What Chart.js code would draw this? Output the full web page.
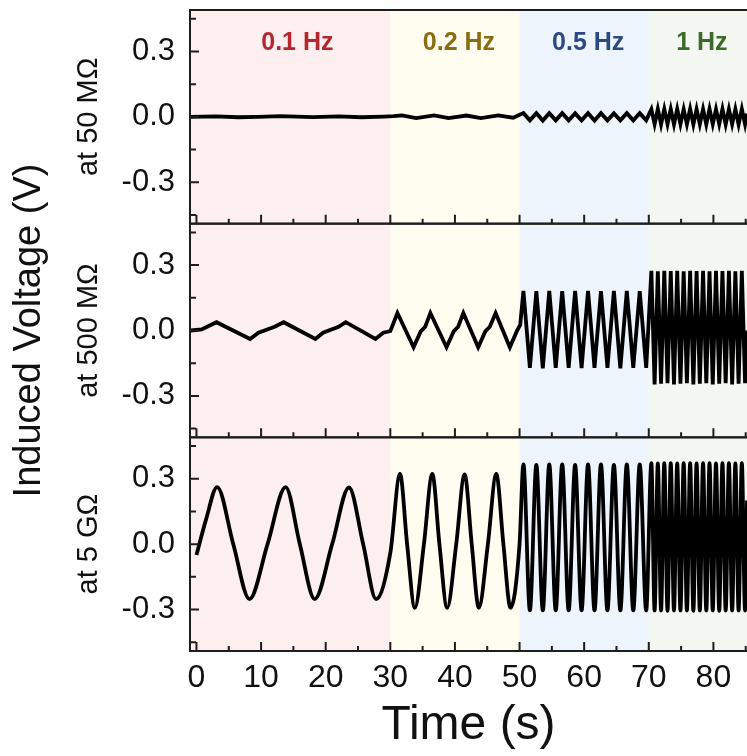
<!DOCTYPE html>
<html>
<head>
<meta charset="utf-8">
<script src="https://cdn.jsdelivr.net/npm/chart.js@4.4.1/dist/chart.umd.min.js"></script>
<style>
  html, body { margin: 0; padding: 0; background: #fff; }
</style>
</head>
<body>
<canvas id="myChart" width="747" height="756"></canvas>
<script>
const FONT = "'Liberation Sans', Arial, Helvetica, sans-serif";

// frequency sections of the drive (s)
const bandEdges = [-1, 30, 50, 70, 85.2];
const bandNames = ['0.1 Hz', '0.2 Hz', '0.5 Hz', '1 Hz'];
const bandColors = ['#fdeef0', '#fefdf0', '#eef4fb', '#f3f6f1'];
const bandTextColors = ['#b3282e', '#8a6c12', '#2b4a82', '#3d6a2b'];

const xTickMarks = [0, 5, 10, 15, 20, 25, 30, 35, 40, 45, 50, 55, 60, 65, 70, 75, 80, 85];
const yTickMarks = [-0.45, -0.3, -0.15, 0, 0.15, 0.3, 0.45];

// load 50 MOhm
const time50M = [-0.9, 3.0, 6.5, 9.5, 13.0, 18.0, 22.0, 25.5, 29.0, 30.5,
  31.8, 34.0, 36.8, 39.0, 41.8, 44.0, 46.7, 49.0,
  50.6, 51.6, 52.6, 53.6, 54.6, 55.6, 56.6, 57.6, 58.6, 59.6, 60.6, 61.6, 62.6, 63.6, 64.6, 65.6, 66.6, 67.6, 68.6, 69.6,
  70.4, 70.9, 71.4, 71.9, 72.4, 72.9, 73.4, 73.9, 74.4, 74.9, 75.4, 75.9, 76.4, 76.9, 77.4, 77.9, 78.4, 78.9, 79.4, 79.9,
  80.4, 80.9, 81.4, 81.9, 82.4, 82.9, 83.4, 83.9, 84.4, 84.9, 85.2];
const volt50M = [0.000, 0.002, -0.002, 0.000, 0.003, -0.001, 0.002, -0.002, 0.001, 0.003,
  0.007, -0.006, 0.007, -0.006, 0.006, -0.006, 0.007, -0.004,
  0.017, -0.016, 0.017, -0.017, 0.017, -0.016, 0.017, -0.016, 0.016, -0.016, 0.017, -0.017, 0.017, -0.016, 0.016, -0.016, 0.017, -0.016, 0.017, -0.016,
  0.035, -0.034, 0.036, -0.035, 0.035, -0.034, 0.035, -0.035, 0.036, -0.034, 0.035, -0.034, 0.036, -0.035, 0.035, -0.034, 0.035, -0.035, 0.036, -0.034,
  0.035, -0.034, 0.036, -0.035, 0.035, -0.034, 0.035, -0.035, 0.036, -0.034, 0.015];

// load 500 MOhm
const time500M = [-0.9, 0.8, 3.1, 8.3, 9.6, 12.1, 13.5, 18.4, 19.6, 22.0, 23.1, 27.7, 28.9, 30.0,
  31.1, 33.6, 34.7, 35.4, 36.2, 38.7, 39.8, 40.5, 41.3, 43.6, 44.7, 45.4, 46.3, 48.5, 49.6, 50.1,
  50.6, 51.6, 52.6, 53.6, 54.6, 55.6, 56.6, 57.6, 58.6, 59.6, 60.6, 61.6, 62.6, 63.6, 64.6, 65.6, 66.6, 67.6, 68.6, 69.6,
  70.4, 70.9, 71.4, 71.9, 72.4, 72.9, 73.4, 73.9, 74.4, 74.9, 75.4, 75.9, 76.4, 76.9, 77.4, 77.9, 78.4, 78.9, 79.4, 79.9,
  80.4, 80.9, 81.4, 81.9, 82.4, 82.9, 83.4, 83.9, 84.4, 84.9, 85.2];
const volt500M = [0.000, 0.005, 0.038, -0.039, -0.010, 0.017, 0.038, -0.039, -0.010, 0.017, 0.038, -0.039, -0.010, -0.003,
  0.080, -0.077, -0.004, 0.017, 0.080, -0.077, -0.004, 0.017, 0.080, -0.077, -0.004, 0.017, 0.080, -0.077, -0.002, 0.026,
  0.182, -0.171, 0.180, -0.173, 0.182, -0.171, 0.181, -0.171, 0.182, -0.172, 0.182, -0.171, 0.180, -0.171, 0.182, -0.173, 0.182, -0.171, 0.181, -0.171,
  0.274, -0.247, 0.272, -0.244, 0.274, -0.242, 0.273, -0.247, 0.274, -0.244, 0.272, -0.242, 0.274, -0.247, 0.273, -0.244, 0.274, -0.242, 0.272, -0.247,
  0.274, -0.244, 0.273, -0.242, 0.274, -0.247, 0.272, -0.244, 0.274, -0.242, 0.000];

// load 5 GOhm
const time5G = [0.0, 1.5, 3.2, 5.7, 8.2, 11.0, 13.8, 16.0, 18.3, 21.0, 23.6, 25.8, 27.8, 30.0,
  31.5, 32.6, 33.8, 35.2, 36.5, 37.6, 38.8, 40.2, 41.5, 42.6, 43.7, 45.1, 46.4, 47.5, 48.6, 50.0,
  50.6, 51.6, 52.6, 53.6, 54.6, 55.6, 56.6, 57.6, 58.6, 59.6, 60.6, 61.6, 62.6, 63.6, 64.6, 65.6, 66.6, 67.6, 68.6, 69.6,
  70.4, 70.9, 71.4, 71.9, 72.4, 72.9, 73.4, 73.9, 74.4, 74.9, 75.4, 75.9, 76.4, 76.9, 77.4, 77.9, 78.4, 78.9, 79.4, 79.9,
  80.4, 80.9, 81.4, 81.9, 82.4, 82.9, 83.4, 83.9, 84.4, 84.9, 85.2];
const volt5G = [-0.050, 0.115, 0.262, 0.000, -0.252, 0.000, 0.262, 0.000, -0.252, 0.000, 0.260, 0.000, -0.252, -0.040,
  0.322, 0.000, -0.292, 0.000, 0.322, 0.000, -0.292, 0.000, 0.320, 0.000, -0.292, 0.000, 0.322, 0.000, -0.292, 0.000,
  0.366, -0.304, 0.364, -0.304, 0.366, -0.304, 0.366, -0.304, 0.364, -0.304, 0.366, -0.304, 0.366, -0.304, 0.364, -0.304, 0.366, -0.304, 0.366, -0.304,
  0.372, -0.304, 0.370, -0.304, 0.372, -0.306, 0.372, -0.304, 0.370, -0.304, 0.372, -0.304, 0.372, -0.306, 0.370, -0.304, 0.372, -0.304, 0.372, -0.304,
  0.370, -0.306, 0.372, -0.304, 0.372, -0.304, 0.370, -0.304, 0.372, -0.304, 0.200];

const panelIds = ['y50M', 'y500M', 'y5G'];

const toPoints = (ts, vs) => ts.map((t, i) => ({x: t, y: vs[i]}));

function panelAxis(title) {
  return {
    type: 'linear',
    position: 'left',
    stack: 'panels',
    stackWeight: 1,
    min: -0.49,
    max: 0.49,
    grid: {display: false, drawTicks: false},
    border: {display: false},
    ticks: {
      stepSize: 0.3,
      includeBounds: false,
      padding: 15,
      color: '#111',
      font: {family: FONT, size: 31},
      callback: v => v.toFixed(1)
    },
    title: {
      display: true,
      text: title,
      color: '#111',
      font: {family: FONT, size: 29},
      padding: {top: 72, bottom: 0}
    },
    afterFit: s => {
      s.width = 190;
      s.paddingTop = 0;
      s.paddingBottom = 0;
    }
  };
}

const panelPlugin = {
  id: 'panelFrames',
  beforeDatasetsDraw(chart) {
    const {ctx, chartArea, scales} = chart;
    const x = scales.x;
    ctx.save();
    for (let i = 0; i < bandColors.length; i++) {
      const x0 = x.getPixelForValue(bandEdges[i]);
      const x1 = x.getPixelForValue(bandEdges[i + 1]);
      ctx.fillStyle = bandColors[i];
      ctx.fillRect(x0, chartArea.top, x1 - x0, chartArea.bottom - chartArea.top);
    }
    // section names across the top panel
    const yTop = scales.y50M;
    ctx.font = 'bold 25px ' + FONT;
    ctx.textAlign = 'center';
    ctx.textBaseline = 'middle';
    for (let i = 0; i < bandNames.length; i++) {
      const mid = (Math.max(bandEdges[i], 0) + bandEdges[i + 1]) / 2;
      ctx.fillStyle = bandTextColors[i];
      ctx.fillText(bandNames[i], x.getPixelForValue(mid) + 4, yTop.getPixelForValue(0.34));
    }
    ctx.restore();
  },
  afterDatasetsDraw(chart) {
    const {ctx, chartArea, scales} = chart;
    const x = scales.x;
    ctx.save();
    ctx.strokeStyle = '#1e1e1e';
    ctx.lineWidth = 2;
    panelIds.forEach(id => {
      const s = scales[id];
      ctx.strokeRect(chartArea.left, s.top, chartArea.right - chartArea.left + 10, s.bottom - s.top);
      ctx.beginPath();
      xTickMarks.forEach(t => {
        const px = x.getPixelForValue(t);
        const len = t % 10 === 0 ? 9 : 5;
        ctx.moveTo(px, s.bottom);
        ctx.lineTo(px, s.bottom - len);
      });
      yTickMarks.forEach(v => {
        const py = s.getPixelForValue(v);
        const len = Math.abs(v * 10 % 3) < 0.01 ? 9 : 6;
        ctx.moveTo(chartArea.left, py);
        ctx.lineTo(chartArea.left + len, py);
      });
      ctx.stroke();
    });
    // shared y title
    ctx.translate(30, (chartArea.top + chartArea.bottom) / 2);
    ctx.rotate(-Math.PI / 2);
    ctx.fillStyle = '#111';
    ctx.font = '38px ' + FONT;
    ctx.textAlign = 'center';
    ctx.textBaseline = 'middle';
    ctx.fillText('Induced Voltage (V)', 0, 0);
    ctx.restore();
  }
};

const ctx = document.getElementById('myChart');

new Chart(ctx, {
  type: 'line',
  data: {
    datasets: [
      {label: '50 MΩ', data: toPoints(time50M, volt50M), yAxisID: 'y50M'},
      {label: '500 MΩ', data: toPoints(time500M, volt500M), yAxisID: 'y500M'},
      {label: '5 GΩ', data: toPoints(time5G, volt5G), yAxisID: 'y5G', cubicInterpolationMode: 'monotone'}
    ]
  },
  options: {
    responsive: false,
    animation: false,
    devicePixelRatio: 1,
    layout: {padding: {top: 10, left: 0, right: 0, bottom: 0}},
    plugins: {legend: {display: false}, tooltip: {enabled: false}},
    elements: {
      point: {radius: 0},
      line: {borderWidth: 3.8, borderColor: '#000', tension: 0}
    },
    scales: {
      x: {
        type: 'linear',
        min: -1,
        max: 85.2,
        grid: {display: false, drawTicks: false},
        border: {display: false},
        ticks: {
          stepSize: 10,
          includeBounds: false,
          padding: 8,
          maxRotation: 0,
          color: '#111',
          font: {family: FONT, size: 32}
        },
        title: {
          display: true,
          text: 'Time (s)',
          color: '#111',
          font: {family: FONT, size: 48},
          padding: {top: 0, bottom: 1}
        },
        afterFit: s => { s.height = 105; }
      },
      y5G: panelAxis('at 5 GΩ'),
      y500M: panelAxis('at 500 MΩ'),
      y50M: panelAxis('at 50 MΩ')
    }
  },
  plugins: [panelPlugin]
});
</script>
</body>
</html>
